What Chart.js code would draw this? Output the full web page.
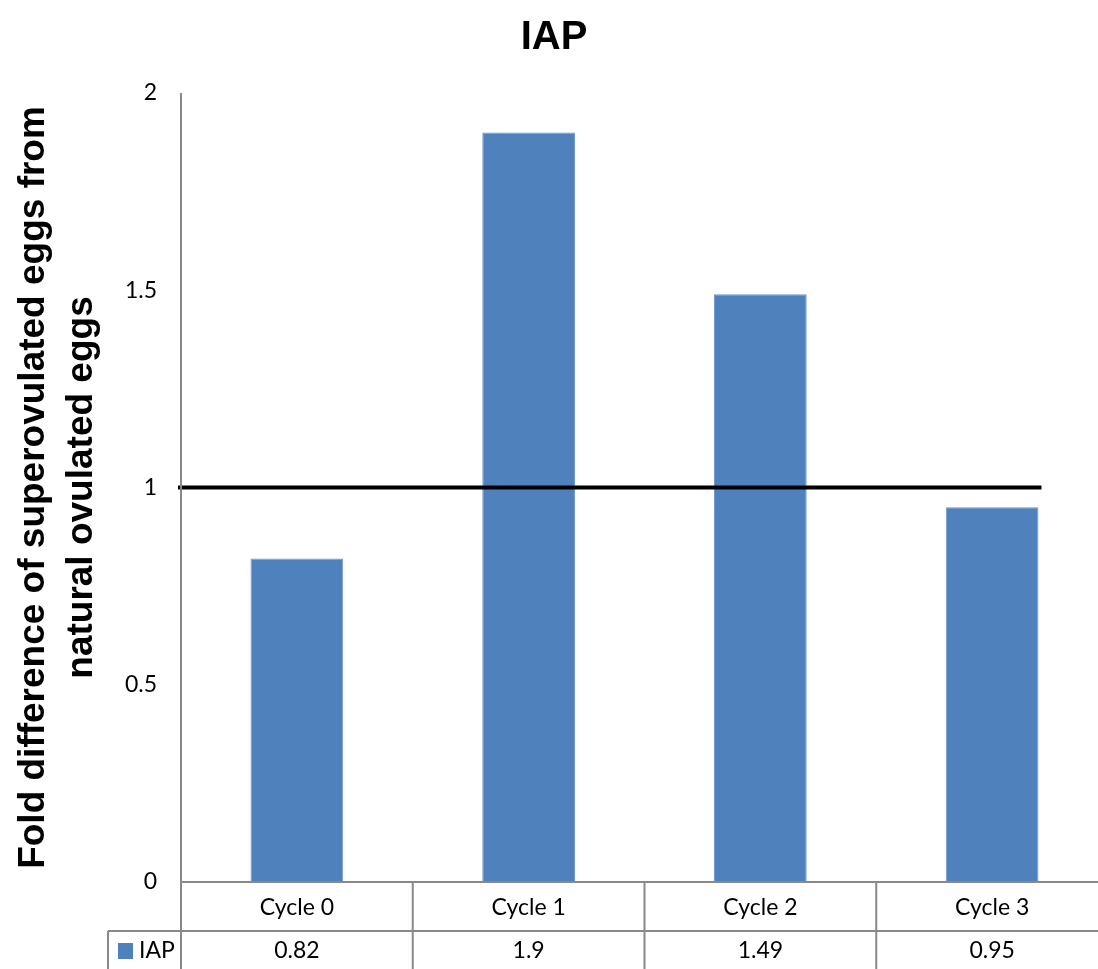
<!DOCTYPE html>
<html lang="en">
<head>
    <meta charset="UTF-8">
    <title>IAP</title>
    <script src="https://cdn.jsdelivr.net/npm/chart.js"></script>
    <style>
        html, body { margin: 0; padding: 0; background: #fff; }
        #chart-container {
            width: 1098px;
            height: 969px;
            overflow: hidden;
        }
    </style>
</head>
<body>
    <div id="chart-container">
        <canvas id="iapChart" width="1108" height="969"></canvas>
    </div>

    <script>
        const categories = ['Cycle 0', 'Cycle 1', 'Cycle 2', 'Cycle 3'];
        const iapValues = [0.82, 1.9, 1.49, 0.95];
        const valueLabels = ['0.82', '1.9', '1.49', '0.95'];
        const yTickValues = [0, 0.5, 1, 1.5, 2];
        const referenceLevel = 1;

        const barBlue = '#4F81BD';
        const gridGrey = '#898989';
        const tickFont = { family: 'Lato, "Liberation Sans", sans-serif', size: 23 };

        // black line at fold = 1 plus the data table under the axis
        const tablePlugin = {
            id: 'tablePlugin',
            afterDraw(chart) {
                const ctx = chart.ctx;
                const area = chart.chartArea;
                const x = chart.scales.x;
                const y = chart.scales.y;
                const bars = chart.getDatasetMeta(0).data;
                const rowH = 49;
                const legendW = 73;
                const bottom = chart.height;
                const half = (x.getPixelForValue(1) - x.getPixelForValue(0)) / 2;

                ctx.save();
                // reference line
                const lastBar = bars[bars.length - 1];
                const refY = y.getPixelForValue(referenceLevel);
                ctx.strokeStyle = '#000';
                ctx.lineWidth = 4;
                ctx.beginPath();
                ctx.moveTo(area.left - 3, refY);
                ctx.lineTo(lastBar.x + lastBar.width / 2 + 3, refY);
                ctx.stroke();

                // table grid
                ctx.strokeStyle = gridGrey;
                ctx.lineWidth = 2;
                ctx.beginPath();
                ctx.moveTo(area.left, area.top);
                ctx.lineTo(area.left, bottom);
                ctx.moveTo(area.left, area.bottom);
                ctx.lineTo(chart.width, area.bottom);
                ctx.moveTo(area.left - legendW, area.bottom + rowH);
                ctx.lineTo(chart.width, area.bottom + rowH);
                ctx.moveTo(area.left - legendW, area.bottom + rowH);
                ctx.lineTo(area.left - legendW, bottom);
                categories.forEach((c, i) => {
                    const bx = x.getPixelForValue(i) + half;
                    ctx.moveTo(bx, area.bottom);
                    ctx.lineTo(bx, bottom);
                });
                ctx.stroke();

                // values row
                ctx.fillStyle = '#000';
                ctx.font = tickFont.size + 'px ' + tickFont.family;
                ctx.textAlign = 'center';
                ctx.textBaseline = 'middle';
                const rowMid = area.bottom + rowH + 20;
                valueLabels.forEach((v, i) => {
                    ctx.fillText(v, x.getPixelForValue(i), rowMid);
                });

                // legend key
                ctx.fillStyle = barBlue;
                ctx.fillRect(area.left - legendW + 10, rowMid - 8, 15, 16);
                ctx.fillStyle = '#000';
                ctx.textAlign = 'left';
                ctx.fillText(chart.data.datasets[0].label, area.left - legendW + 31, rowMid);
                ctx.restore();
            }
        };

        new Chart(document.getElementById('iapChart'), {
            type: 'bar',
            data: {
                labels: categories,
                datasets: [{
                    label: 'IAP',
                    data: iapValues,
                    backgroundColor: barBlue,
                    borderColor: '#6d98cb',
                    borderWidth: 1,
                    barPercentage: 0.4,
                    categoryPercentage: 1
                }]
            },
            options: {
                responsive: false,
                animation: false,
                devicePixelRatio: 1,
                layout: { padding: { left: 0, right: 0, top: 0, bottom: 0 } },
                plugins: {
                    legend: { display: false },
                    tooltip: { enabled: false },
                    title: {
                        display: true,
                        text: 'IAP',
                        color: '#000',
                        font: { family: '"Liberation Sans", Arial, sans-serif', size: 40, weight: 'bold', lineHeight: 1.2 },
                        padding: { top: 14, bottom: 31 }
                    }
                },
                scales: {
                    x: {
                        grid: { display: false, drawTicks: false },
                        border: { display: false },
                        ticks: { color: '#000', font: tickFont, padding: 12, maxRotation: 0 },
                        afterFit(scale) { scale.height = 87; }
                    },
                    y: {
                        min: 0,
                        max: 2,
                        afterBuildTicks(scale) {
                            scale.ticks = yTickValues.map(v => ({ value: v }));
                        },
                        grid: { display: false, drawTicks: false },
                        border: { display: false },
                        ticks: {
                            color: '#000',
                            font: tickFont,
                            padding: 24,
                            callback: v => String(v)
                        },
                        title: {
                            display: true,
                            text: ['Fold difference of superovulated eggs from', 'natural ovulated eggs'],
                            color: '#000',
                            font: { family: '"Liberation Sans", Arial, sans-serif', size: 37, weight: 'bold', lineHeight: 1.3 },
                            padding: { top: 10, bottom: 0 }
                        },
                        afterFit(scale) { scale.width = 181; }
                    }
                }
            },
            plugins: [tablePlugin]
        });
    </script>
</body>
</html>
